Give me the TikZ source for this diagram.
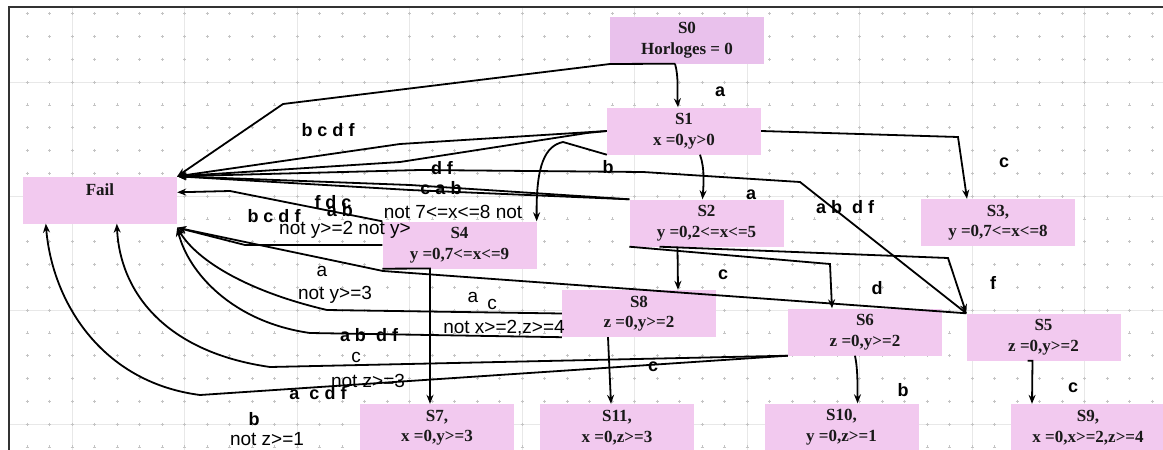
\documentclass[tikz,border=0pt]{standalone}
\usepackage{fontspec}
\setmainfont{Liberation Serif}
\newfontfamily\lsans{Liberation Sans}
\usetikzlibrary{arrows.meta}
\definecolor{pinkbox}{HTML}{F2C9EF}
\definecolor{pinktop}{HTML}{E9C1EC}
\definecolor{gridline}{HTML}{E8E8E8}
\definecolor{griddot}{HTML}{C4C4C4}
\begin{document}
\begin{tikzpicture}[x=1pt,y=-1pt,
  state/.style={rectangle, fill=pinkbox, minimum width=154pt, minimum height=47pt, inner sep=0pt, align=center, font=\fontsize{17}{20.5}\selectfont\bfseries, text=black!90},
  conn/.style={line width=1.8pt, black},
  arr/.style={conn, -{Stealth[length=9pt,width=7pt]}},
  ev/.style={font=\lsans\bfseries\fontsize{18}{21}\selectfont, inner sep=0pt},
  grd/.style={font=\lsans\fontsize{19}{22}\selectfont, inner sep=0pt},
]
\useasboundingbox (0,0) rectangle (1163,450);
% background grid
\foreach \k in {0,...,9} \draw[gridline, line width=0.8pt] ({72+112.5*\k},8) -- ({72+112.5*\k},450);
\foreach \k in {0,...,3} \draw[gridline, line width=0.8pt] (10,{82+114*\k}) -- (1163,{82+114*\k});
\foreach \i in {-2,...,48}{\foreach \j in {-3,...,16}{
  \draw[griddot, line width=0.5pt] ({72+22.5*\i-1.5},{82+22.8*\j}) -- ++(3,0) ({72+22.5*\i},{82+22.8*\j-1.5}) -- ++(0,3);
}}
\draw[line width=1.5pt, black!80] (9,450) -- (9,7) -- (1163,7);
% states
\node[state, fill=pinktop] (S0) at (687,40) {S0\\Horloges = 0};
\node[state] (S1) at (684,131) {S1\\x =0,y>0};
\node[state] (Fail) at (100,200) {Fail\\\mbox{}};
\node[state] (S2) at (706.5,223) {S2\\y =0,2<=x<=5};
\node[state] (S3) at (998,222.5) {S3,\\y =0,7<=x<=8};
\node[state] (S4) at (459.5,245) {S4\\y =0,7<=x<=9};
\node[state] (S8) at (639,313.5) {S8\\z =0,y>=2};
\node[state] (S6) at (865,332) {S6\\z =0,y>=2};
\node[state] (S5) at (1043.5,337) {S5\\z =0,y>=2};
\node[state] (S7) at (437,427.5) {S7,\\x =0,y>=3};
\node[state] (S11) at (617,427.5) {S11,\\x =0,z>=3};
\node[state] (S10) at (841.5,427) {S10,\\y =0,z>=1};
\node[state] (S9) at (1088,427.5) {S9,\\x =0,x>=2,z>=4};
% fail attach points
\coordinate (FA) at (Fail.north east);
\coordinate (FB) at ([yshift=-16pt]Fail.north east);
\coordinate (FC) at ([yshift=-4pt]Fail.south east);
\coordinate (FD) at ([xshift=94pt]Fail.south west);
\coordinate (FE) at ([xshift=23pt]Fail.south west);
% connectors
\draw[arr] ([xshift=-12pt]S0.south) .. controls +(4,14) and +(-1,-14) .. ([xshift=-6pt]S1.north);
\draw[arr] ([xshift=-12pt]S0.south) -- (610,64) -- (283,104) -- (FA);
\draw[arr] (S1.west) -- (400,144) -- (FA);
\draw[arr] (S1.west) -- (587,133) -- (400,162) -- (FA);
\draw[arr] (S1.south west) -- (563,142) .. controls (545,146) and (536,165) .. (S4.north east);
\draw[arr] ([xshift=16pt]S1.south) .. controls +(5,14) and +(1,-14) .. ([xshift=-4pt]S2.north);
\draw[arr] (S1.east) -- (958,137) -- ([xshift=-31pt]S3.north);
\draw[arr] (S5.north west) -- (800,182) -- (643,172) -- (420,170) -- (FA);
\draw[arr] (S2.north west) -- (410,185) -- (FA);
\draw[arr] (S2.north west) -- (410,190) -- (FA);
\draw[arr] (S4.north west) -- (230,191) -- (FB);
\draw[arr] (S4.west) -- (245,245) -- (FC);
\draw[arr] (S5.north west) -- (383,271) -- (FC);
\draw[arr] (S4.south west) -- (430,268.5) -- ([xshift=-7pt]S7.north);
\draw[arr] (S8.west) -- (327,310) .. controls (250,292) and (198,262) .. (FC);
\draw[arr] (S8.south west) -- (310,333) .. controls (232,322) and (188,272) .. (FC);
\draw[arr] (S6.south west) -- (270,367) .. controls (165,352) and (120,292) .. (FD);
\draw[arr] (S6.south west) -- (200,395) .. controls (100,382) and (52,300) .. (FE);
\draw[arr] ([xshift=-31pt]S8.south) -- ([xshift=-6pt]S11.north);
\draw[arr] ([xshift=-29pt]S2.south) -- ([xshift=39pt]S8.north);
\draw[arr] (S2.south west) -- (830,264) -- ([xshift=-33pt]S6.north);
\draw[arr] ([xshift=-47pt]S2.south) -- (948,258) -- (S5.north west);
\draw[arr] ([xshift=-10pt]S6.south) .. controls +(3,14) and +(0,-14) .. ([xshift=16pt]S10.north);
\draw[arr] ([xshift=-16pt]S5.south) -- ++(5,0) -- ([xshift=-56pt]S9.north);
% labels
\node[ev] (l1) at (720,92) {a};
\node[ev] (l2) at (328,130) {b c d f};
\node[ev] (l3) at (442,168) {d f};
\node[ev] (l4) at (608,167) {b};
\node[ev] (l5) at (441,188) {c a b};
\node[ev] (l6) at (751,195) {a};
\node[ev] (l7) at (1004,163) {c};
\node[ev] (l8) at (845,207) {a b\ \ d f};
\node[grd] (l9) at (453,212) {not 7<=x<=8 not};
\node[ev] (l10) at (333,202) {f d c};
\node[ev] (l11) at (340,210) {a b};
\node[ev] (l12) at (274,216) {b c d f};
\node[grd] (l13) at (345,230) {not y>=2 not y>};
\node[grd] (l14) at (322,271) {a};
\node[grd] (l15) at (335,295) {not y>=3};
\node[grd] (l16) at (473,297) {a};
\node[grd] (l17) at (492,304) {c};
\node[grd] (l18) at (504,328) {not x>=2,z>=4};
\node[ev] (l19) at (369,335) {a b\ \ d f};
\node[grd] (l20) at (356,357) {c};
\node[grd] (l21) at (368,381) {not z>=3};
\node[ev] (l22) at (318,393) {a\ \ c d f};
\node[ev] (l23) at (254,419) {b};
\node[grd] (l24) at (267,439) {not z>=1};
\node[ev] (l25) at (723,275) {c};
\node[ev] (l26) at (877,288) {d};
\node[ev] (l27) at (993,283) {f};
\node[ev] (l28) at (653,367) {c};
\node[ev] (l29) at (903,390) {b};
\node[ev] (l30) at (1073,388) {c};
\end{tikzpicture}
\end{document}
